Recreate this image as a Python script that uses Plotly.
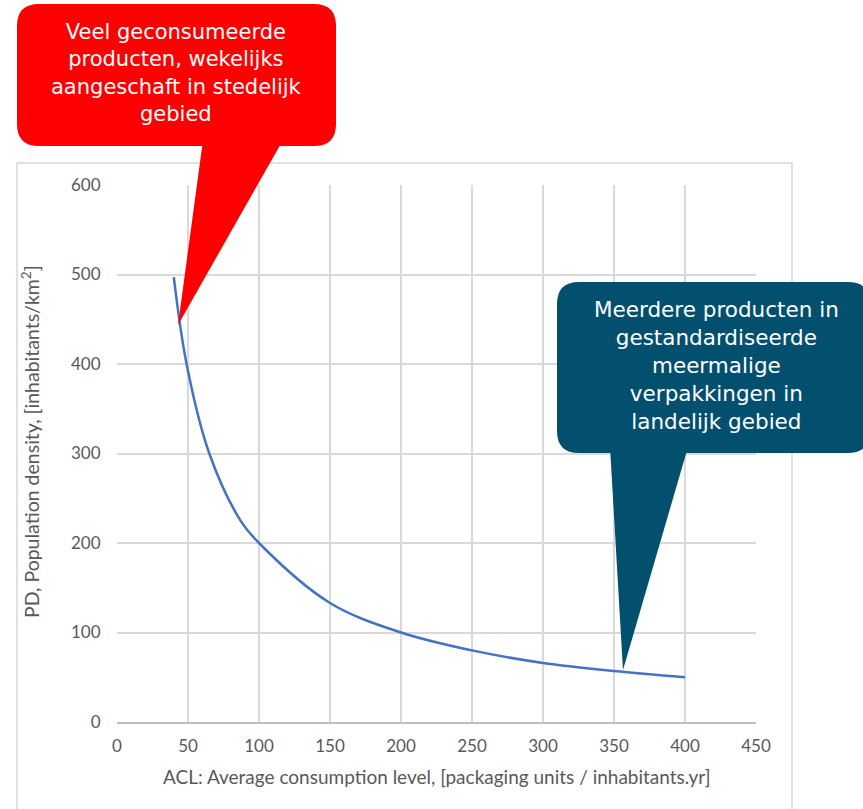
import plotly.graph_objects as go

# Data
acl = [40, 49, 65, 87, 100, 150, 200, 250, 300, 350, 400]
pd_density = [497, 400, 300, 225, 200, 133, 100, 80, 66, 57, 50]

x_ticks = [0, 50, 100, 150, 200, 250, 300, 350, 400, 450]
y_ticks = [0, 100, 200, 300, 400, 500, 600]

red_text = "Veel geconsumeerde<br>producten, wekelijks<br>aangeschaft in stedelijk<br>gebied"
blue_text = "Meerdere producten in<br>gestandardiseerde<br>meermalige<br>verpakkingen in<br>landelijk gebied"

W, H = 863, 809
L, R, T, B = 117, 107, 185, 87
PW, PH = W - L - R, H - T - B


def xp(px):
    return (px - L) / PW


def yp(py):
    return (H - B - py) / PH


def rounded_rect(x0, y0, x1, y1, r):
    # pixel coords (y down) -> paper path
    rx, ry = r / PW, r / PH
    X0, X1 = xp(x0), xp(x1)
    Yt, Yb = yp(y0), yp(y1)
    return (f"M {X0+rx},{Yt} L {X1-rx},{Yt} Q {X1},{Yt} {X1},{Yt-ry} "
            f"L {X1},{Yb+ry} Q {X1},{Yb} {X1-rx},{Yb} L {X0+rx},{Yb} "
            f"Q {X0},{Yb} {X0},{Yb+ry} L {X0},{Yt-ry} Q {X0},{Yt} {X0+rx},{Yt} Z")


def tri(pts):
    s = "M " + " L ".join(f"{xp(a)},{yp(b)}" for a, b in pts) + " Z"
    return s


RED = "#FF0000"
BLUE = "#02506E"
GRID = "#D9D9D9"
TXT = "#595959"
AX_FONT = "Lato, Liberation Sans, sans-serif"

fig = go.Figure()
fig.add_trace(go.Scatter(
    x=acl, y=pd_density, mode="lines",
    line=dict(color="#4472C4", width=2.5, shape="spline", smoothing=1.0),
    hoverinfo="skip", showlegend=False,
))

shapes = [
    # outer chart frame
    dict(type="rect", xref="paper", yref="paper",
         x0=xp(17), x1=xp(792), y0=yp(830), y1=yp(163),
         line=dict(color=GRID, width=1.5), fillcolor="rgba(0,0,0,0)", layer="below"),
    # red callout
    dict(type="path", xref="paper", yref="paper", path=rounded_rect(17, 4, 336, 146, 22),
         fillcolor=RED, line=dict(width=0), layer="above"),
    dict(type="path", xref="paper", yref="paper",
         path=tri([(203, 140), (283, 140), (178, 325)]),
         fillcolor=RED, line=dict(width=0), layer="above"),
    # blue callout
    dict(type="path", xref="paper", yref="paper", path=rounded_rect(557, 282, 870, 453, 22),
         fillcolor=BLUE, line=dict(width=0), layer="above"),
    dict(type="path", xref="paper", yref="paper",
         path=tri([(610, 447), (688, 447), (623, 670)]),
         fillcolor=BLUE, line=dict(width=0), layer="above"),
]

annotations = [
    dict(xref="paper", yref="paper", x=xp(176.5), y=yp(73), text=red_text,
         showarrow=False, xanchor="center", yanchor="middle", align="center",
         font=dict(family="DejaVu Sans, Verdana, sans-serif", size=21, color="white")),
    dict(xref="paper", yref="paper", x=xp(716.5), y=yp(365), text=blue_text,
         showarrow=False, xanchor="center", yanchor="middle", align="center",
         font=dict(family="DejaVu Sans, Verdana, sans-serif", size=21.5, color="white")),
    dict(xref="paper", yref="paper", x=xp(437), y=yp(776),
         text="ACL: Average consumption level, [packaging units / inhabitants.yr]",
         showarrow=False, xanchor="center", yanchor="middle",
         font=dict(family=AX_FONT, size=19, color=TXT)),
    dict(xref="paper", yref="paper", x=xp(30), y=yp(442),
         text="PD, Population density, [inhabitants/km<sup>2</sup>]", textangle=-90,
         showarrow=False, xanchor="center", yanchor="middle",
         font=dict(family=AX_FONT, size=19.5, color=TXT)),
]

fig.update_layout(
    width=W, height=H,
    margin=dict(l=L, r=R, t=T, b=B, pad=0),
    paper_bgcolor="white", plot_bgcolor="white",
    shapes=shapes, annotations=annotations,
    showlegend=False,
    xaxis=dict(range=[0, 450], tickvals=x_ticks, ticktext=[str(v) for v in x_ticks],
               showgrid=True, gridcolor=GRID, gridwidth=1.5, zeroline=False,
               showline=True, linecolor="#BFBFBF", linewidth=1.5,
               ticks="outside", ticklen=8, tickcolor="rgba(0,0,0,0)",
               tickfont=dict(family=AX_FONT, size=17, color=TXT), fixedrange=True),
    yaxis=dict(range=[0, 600], tickvals=y_ticks, ticktext=[str(v) for v in y_ticks],
               showgrid=True, gridcolor=GRID, gridwidth=1.5, zeroline=False,
               showline=False,
               ticks="outside", ticklen=12, tickcolor="rgba(0,0,0,0)",
               tickfont=dict(family=AX_FONT, size=17, color=TXT), fixedrange=True),
)

fig.write_html(
    "out.html",
    config={"displayModeBar": False},
    post_script="document.body.style.margin='0';document.body.style.overflow='hidden';",
)
